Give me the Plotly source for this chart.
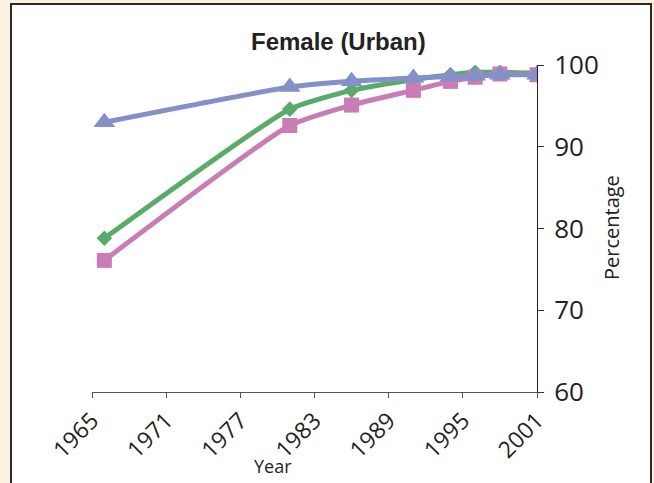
import plotly.graph_objects as go

years = [1966, 1981, 1986, 1991, 1994, 1996, 1998, 2001]
series_blue = [93.0, 97.3, 98.0, 98.4, 98.6, 98.7, 98.8, 98.8]
series_green = [78.8, 94.6, 96.9, 98.2, 98.8, 99.1, 99.1, 99.0]
series_pink = [76.1, 92.6, 95.1, 96.9, 98.0, 98.5, 98.9, 98.8]
x_ticks = [1965, 1971, 1977, 1983, 1989, 1995, 2001]
y_ticks = [60, 70, 80, 90, 100]

W, H = 654, 483
L, R, T, B = 92, 117, 65, 91
pw, ph = W - L - R, H - T - B

def px(x):
    return (x - L) / pw

def py(y):
    return 1 - (y - T) / ph

BLUE = "#8490C8"
GREEN = "#5AAA69"
PINK = "#C87DB4"

fig = go.Figure()
fig.add_trace(go.Scatter(x=years, y=series_green, mode="lines+markers",
                         line=dict(color=GREEN, width=5, shape="spline", smoothing=0.5),
                         marker=dict(symbol="diamond", size=12, color=GREEN)))
fig.add_trace(go.Scatter(x=years, y=series_pink, mode="lines+markers",
                         line=dict(color=PINK, width=5, shape="spline", smoothing=0.5),
                         marker=dict(symbol="square", size=15, color=PINK)))
fig.add_trace(go.Scatter(x=years, y=series_blue, mode="lines+markers",
                         line=dict(color=BLUE, width=5, shape="spline", smoothing=0.5),
                         marker=dict(symbol="triangle-up", size=19, color=BLUE)))

font_main = "Open Sans, Lato, DejaVu Sans, sans-serif"

fig.update_layout(
    width=W, height=H,
    margin=dict(l=L, r=R, t=T, b=B, pad=0),
    paper_bgcolor="#FDF0E1",
    plot_bgcolor="white",
    showlegend=False,
    xaxis=dict(range=[1965, 2001], tickvals=x_ticks, ticktext=[str(v) for v in x_ticks],
               tickangle=-45, ticks="outside", ticklen=5, tickcolor="#555",
               showline=True, linecolor="#555", linewidth=1, showgrid=False, zeroline=False,
               tickfont=dict(family=font_main, size=23, color="#222"), fixedrange=True),
    yaxis=dict(range=[60, 100], tickvals=y_ticks, side="right", ticks="outside", ticklen=6,
               tickcolor="#333", showline=True, linecolor="#222", linewidth=1,
               showgrid=False, zeroline=False, ticklabelstandoff=5,
               tickfont=dict(family=font_main, size=26, color="#222"), fixedrange=True),
    shapes=[dict(type="rect", xref="paper", yref="paper", layer="below",
                 x0=px(11), x1=px(651), y0=py(490), y1=py(4),
                 line=dict(color="#2A2A2A", width=2), fillcolor="white")],
    annotations=[
        dict(text="<b>Female (Urban)</b>", xref="paper", yref="paper", x=px(338), y=py(41),
             xanchor="center", yanchor="middle", showarrow=False,
             font=dict(family="Liberation Sans Narrow, Arial Narrow, sans-serif", size=24, color="#222")),
        dict(text="Year", xref="paper", yref="paper", x=px(273), y=py(466),
             xanchor="center", yanchor="middle", showarrow=False,
             font=dict(family=font_main, size=18, color="#222")),
        dict(text="Percentage", xref="paper", yref="paper", x=px(611), y=py(228),
             xanchor="center", yanchor="middle", showarrow=False, textangle=-90,
             font=dict(family=font_main, size=20, color="#222")),
    ],
)

fig.write_html("out.html", config={"displayModeBar": False},
               post_script="document.body.style.margin='0';document.body.style.overflow='hidden';")
